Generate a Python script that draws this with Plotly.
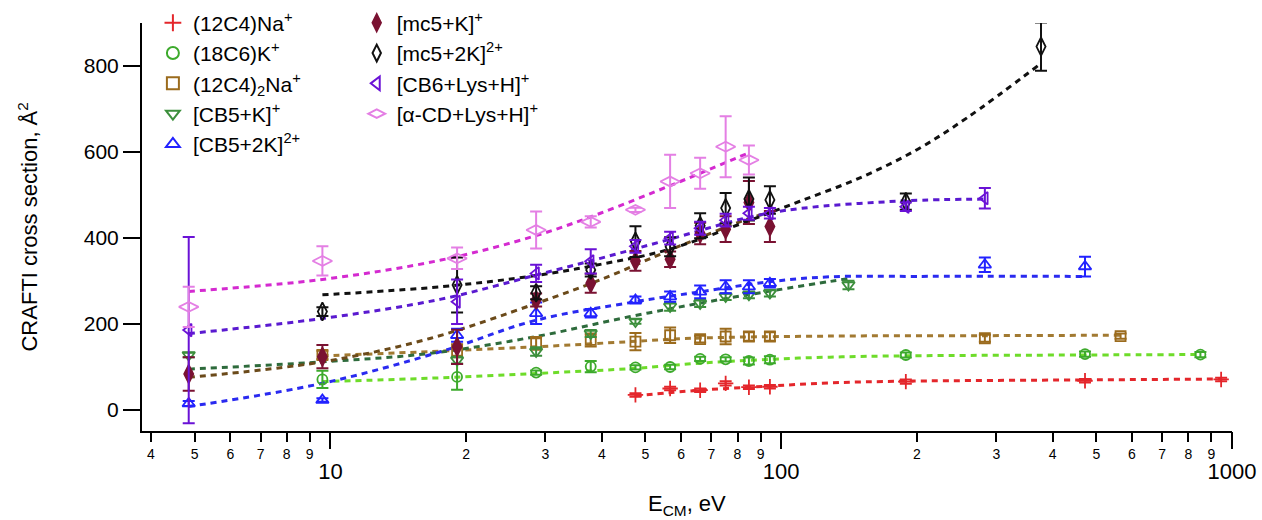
import plotly.graph_objects as go

# ---------------- data ----------------
na_x = [47.5, 56.7, 66.1, 75.3, 84.8, 94.4, 189, 472, 946]
na_y = [34, 49, 45, 61, 52, 53, 65, 67, 70]
na_e = [4, 4, 4, 5, 4, 4, 5, 4, 4]

k18_x = [9.6, 19.1, 28.6, 37.8, 47.5, 56.7, 66.1, 75.3, 84.8, 94.4, 189, 472, 851]
k18_y = [70, 76, 86, 100, 98, 99, 118, 117, 113, 116, 127, 129, 128]
k18_e = [20, 30, 5, 13, 5, 5, 5, 5, 8, 8, 6, 6, 6]

na2_x = [9.6, 19.1, 28.6, 37.8, 47.5, 56.7, 66.1, 75.3, 84.8, 94.4, 283, 566]
na2_y = [127, 137, 154, 162, 158, 173, 164, 170, 170, 170, 166, 171]
na2_e = [10, 15, 15, 15, 20, 18, 8, 18, 10, 10, 8, 6]

cb5k_x = [4.85, 19.1, 28.6, 37.8, 47.5, 56.7, 66.1, 75.3, 84.8, 94.4, 141]
cb5k_y = [127, 115, 135, 177, 205, 240, 247, 263, 267, 271, 290]
cb5k_e = [5, 8, 10, 8, 5, 10, 8, 8, 8, 8, 10]

cb52k_x = [4.85, 9.6, 19.1, 28.6, 37.8, 47.5, 56.7, 66.1, 75.3, 84.8, 94.4, 283, 472]
cb52k_y = [14, 22, 173, 224, 224, 255, 263, 274, 286, 286, 294, 337, 333]
cb52k_e = [6, 4, 15, 25, 10, 8, 12, 15, 15, 15, 10, 17, 23]

mc5k_x = [4.85, 9.6, 19.1, 28.6, 37.8, 47.5, 56.7, 66.1, 75.3, 84.8, 94.4]
mc5k_y = [83, 123, 146, 255, 294, 346, 350, 410, 420, 482, 426]
mc5k_e = [39, 27, 40, 15, 22, 23, 18, 25, 30, 50, 36]

mc52k_x = [9.6, 19.1, 28.6, 37.8, 47.5, 56.7, 66.1, 75.3, 84.8, 94.4, 189, 377]
mc52k_y = [228, 290, 272, 325, 391, 379, 428, 469, 490, 488, 484, 845]
mc52k_e = [10, 64, 15, 15, 36, 22, 29, 35, 50, 32, 19, 56]

cb6_x = [4.85, 19.1, 28.6, 37.8, 47.5, 56.7, 66.1, 75.3, 84.8, 94.4, 189, 283]
cb6_y = [185, 251, 317, 345, 380, 399, 422, 441, 457, 457, 472, 492]
cb6_e = [217, 52, 20, 28, 15, 15, 15, 15, 15, 12, 10, 24]

acd_x = [4.85, 9.6, 19.1, 28.6, 37.8, 47.5, 56.7, 66.1, 75.3, 84.8]
acd_y = [239, 346, 352, 418, 437, 465, 531, 550, 612, 581]
acd_e = [47, 34, 25, 43, 13, 5, 62, 36, 71, 34]

# dashed fit curves
fit_na_x = [47.5, 66, 95, 128, 189, 472, 946]
fit_na_y = [32, 45, 55, 62, 66, 69, 71]
fit_k18_x = [9.6, 16.7, 28.6, 47.5, 66, 95, 128, 189, 472, 851]
fit_k18_y = [65, 73, 84, 96, 108, 117, 122, 125, 127, 128]
fit_na2_x = [9.6, 16.7, 28.6, 46, 64, 128, 283, 566]
fit_na2_y = [125, 135, 146, 158, 166, 171, 172, 173]
fit_cb5k_x = [4.85, 9.6, 16.7, 28.6, 46, 75, 128, 141]
fit_cb5k_y = [94, 111, 131, 170, 216, 258, 298, 305]
fit_cb52k_x = [4.85, 9.6, 17.6, 28.6, 47.5, 66, 95, 128, 200, 472]
fit_cb52k_y = [7, 61, 135, 208, 251, 274, 298, 309, 310, 310]
fit_mc5k_x = [4.85, 9.6, 16.7, 28.6, 39.7, 56.6, 66, 75.6, 85, 95]
fit_mc5k_y = [75, 111, 166, 247, 302, 371, 400, 425, 445, 460]
fit_mc52k_x = [9.6, 17.6, 28.6, 39.7, 56, 85, 110, 150, 200, 259, 377]
fit_mc52k_y = [267, 286, 312, 338, 372, 440, 485, 540, 605, 680, 806]
fit_cb6_x = [4.85, 9.6, 17.6, 28.6, 39.7, 56, 85, 110, 189, 283]
fit_cb6_y = [177, 212, 257, 313, 352, 395, 448, 468, 486, 490]
fit_acd_x = [4.85, 9.6, 17.6, 28.6, 39.7, 56.6, 66.1, 84.9]
fit_acd_y = [275, 303, 348, 405, 457, 521, 550, 598]

x_minor_vals = [4, 5, 6, 7, 8, 9, 20, 30, 40, 50, 60, 70, 80, 90,
                200, 300, 400, 500, 600, 700, 800, 900]
x_minor_text = ["4", "5", "6", "7", "8", "9", "2", "3", "4", "5", "6", "7", "8", "9",
                "2", "3", "4", "5", "6", "7", "8", "9"]
x_decades = [10, 100, 1000]
x_decade_text = ["10", "100", "1000"]
y_tick_vals = [0, 200, 400, 600, 800]

FONT = "Liberation Sans, Arial, Helvetica, sans-serif"

series = [
    # name, x, y, err, symbol, size, marker color, line color, fit x, fit y, legend
    ("(12C4)Na<sup>+</sup>", na_x, na_y, na_e, "cross-thin-open", 11, "#e4262b", "#e4262b", fit_na_x, fit_na_y, "legend"),
    ("(18C6)K<sup>+</sup>", k18_x, k18_y, k18_e, "circle-open", 10, "#3daa2c", "#6edc2a", fit_k18_x, fit_k18_y, "legend"),
    ("(12C4)<sub>2</sub>Na<sup>+</sup>", na2_x, na2_y, na2_e, "square-open", 10, "#9b6b1d", "#a27a32", fit_na2_x, fit_na2_y, "legend"),
    ("[CB5+K]<sup>+</sup>", cb5k_x, cb5k_y, cb5k_e, "triangle-down-open", 11, "#3c8f3c", "#2e6b3c", fit_cb5k_x, fit_cb5k_y, "legend"),
    ("[CB5+2K]<sup>2+</sup>", cb52k_x, cb52k_y, cb52k_e, "triangle-up-open", 11, "#2222ff", "#2a2af0", fit_cb52k_x, fit_cb52k_y, "legend"),
    ("[mc5+K]<sup>+</sup>", mc5k_x, mc5k_y, mc5k_e, "diamond-tall", 13, "#7a1232", "#6b4a1a", fit_mc5k_x, fit_mc5k_y, "legend2"),
    ("[mc5+2K]<sup>2+</sup>", mc52k_x, mc52k_y, mc52k_e, "diamond-tall-open", 13, "#111111", "#111111", fit_mc52k_x, fit_mc52k_y, "legend2"),
    ("[CB6+Lys+H]<sup>+</sup>", cb6_x, cb6_y, cb6_e, "triangle-left-open", 11, "#6a12d6", "#5a1ad0", fit_cb6_x, fit_cb6_y, "legend2"),
    ("[α-CD+Lys+H]<sup>+</sup>", acd_x, acd_y, acd_e, "diamond-wide-open", 14, "#e47fe4", "#d42ad0", fit_acd_x, fit_acd_y, "legend2"),
]

fig = go.Figure()

# fit lines first (behind markers)
for name, x, y, e, sym, sz, mc, lc, fx, fy, lg in series:
    fig.add_trace(go.Scatter(
        x=fx, y=fy, mode="lines", line=dict(color=lc, width=3, dash="6px,5px", shape="spline"),
        showlegend=False, hoverinfo="skip"))

for name, x, y, e, sym, sz, mc, lc, fx, fy, lg in series:
    fig.add_trace(go.Scatter(
        x=x, y=y, mode="markers", name=name, legend=lg,
        marker=dict(symbol=sym, size=sz, color=mc, line=dict(color=mc, width=1.8)),
        error_y=dict(type="data", array=e, visible=True, color=mc, thickness=2, width=6)))

# empty trace to carry the decade-label axis
fig.add_trace(go.Scatter(x=[], y=[], xaxis="x2", showlegend=False, hoverinfo="skip"))

fig.update_layout(
    width=1262, height=520,
    margin=dict(l=142, r=30, t=23, b=89, autoexpand=False),
    paper_bgcolor="white", plot_bgcolor="white",
    font=dict(family=FONT, color="black"),
    xaxis=dict(type="log", range=[0.5821, 3.0], showgrid=False, zeroline=False, automargin=False,
               showline=True, linecolor="black", linewidth=2,
               tickmode="array", tickvals=x_minor_vals, ticktext=x_minor_text,
               ticks="outside", ticklen=9, tickwidth=2, tickcolor="black",
               tickfont=dict(size=14, family=FONT, color="black")),
    xaxis2=dict(type="log", range=[0.5821, 3.0], overlaying="x", anchor="y", side="bottom",
                showgrid=False, zeroline=False, showline=False, automargin=False,
                tickmode="array", tickvals=x_decades, ticktext=x_decade_text,
                ticks="outside", ticklen=17, tickwidth=2, tickcolor="black",
                ticklabelstandoff=4,
                tickfont=dict(size=22, family=FONT, color="black")),
    yaxis=dict(range=[-50, 900], showgrid=False, zeroline=False, automargin=False,
               showline=True, linecolor="black", linewidth=2,
               tickmode="array", tickvals=y_tick_vals,
               ticks="outside", ticklen=17, tickwidth=2, tickcolor="black",
               tickfont=dict(size=21, family=FONT, color="black")),
    legend=dict(x=0.01, y=1.05, xanchor="left", yanchor="top", bgcolor="rgba(0,0,0,0)",
                font=dict(size=21, family=FONT, color="black"), itemsizing="constant"),
    legend2=dict(x=0.197, y=1.05, xanchor="left", yanchor="top", bgcolor="rgba(0,0,0,0)",
                 font=dict(size=21, family=FONT, color="black"), itemsizing="constant"),
    showlegend=True,
    annotations=[
        dict(text="CRAFTI cross section, Å<sup>2</sup>", xref="paper", yref="paper",
             x=-0.105, y=0.5, xanchor="center", yanchor="middle", textangle=-90,
             showarrow=False, font=dict(size=22, family=FONT, color="black")),
        dict(text="E<sub>CM</sub>, eV", xref="paper", yref="paper",
             x=0.5, y=-0.181, xanchor="center", yanchor="middle",
             showarrow=False, font=dict(size=22, family=FONT, color="black")),
    ],
)

fig.write_html("out.html")
